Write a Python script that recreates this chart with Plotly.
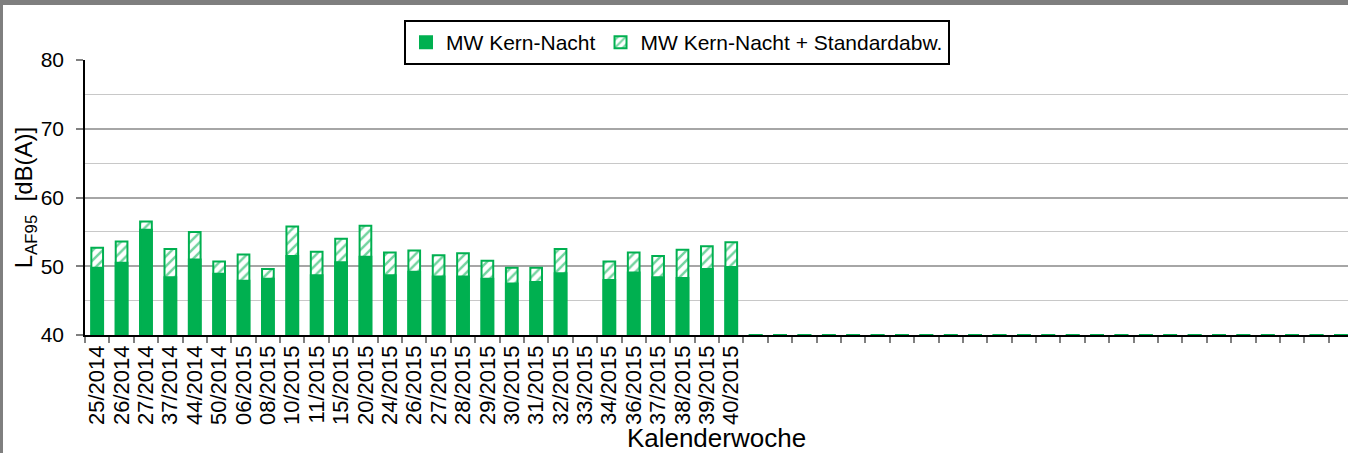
import plotly.graph_objects as go

# ---------------- data ----------------
weeks = ["25/2014", "26/2014", "27/2014", "37/2014", "44/2014", "50/2014",
         "06/2015", "08/2015", "10/2015", "11/2015", "15/2015", "20/2015",
         "24/2015", "26/2015", "27/2015", "28/2015", "29/2015", "30/2015",
         "31/2015", "32/2015", "33/2015", "34/2015", "36/2015", "37/2015",
         "38/2015", "39/2015", "40/2015"]
n_empty = 25  # remaining (unlabelled) weeks with value 0

mw_kern_nacht = [49.8, 50.5, 55.3, 48.4, 51.0, 48.9, 47.9, 48.2, 51.5, 48.7,
                 50.6, 51.4, 48.7, 49.2, 48.5, 48.5, 48.2, 47.5, 47.7, 49.0,
                 None, 48.0, 49.1, 48.4, 48.3, 49.6, 49.9] + [0] * n_empty
mw_plus_sd = [52.7, 53.6, 56.5, 52.5, 55.0, 50.7, 51.7, 49.6, 55.8, 52.1,
              54.0, 55.9, 52.0, 52.3, 51.6, 51.9, 50.8, 49.8, 49.8, 52.5,
              None, 50.7, 52.0, 51.5, 52.4, 52.9, 53.5] + [0] * n_empty

tick_labels = weeks + [""] * n_empty
y_min, y_max = 40, 80

# ---------------- styling ----------------
GREEN = "#00b050"
FONT = "Liberation Sans, Arial, sans-serif"
W, H = 1348, 453
ML, MR, MT, MB = 85, 0, 60, 118
plot_w = W - ML - MR
plot_h = H - MT - MB

def px_x(px):
    return (px - ML) / plot_w

def px_y(py):
    return (H - MB - py) / plot_h

cats = list(range(len(tick_labels)))

def heights(vals):
    return [None if v is None else v - y_min for v in vals]

fig = go.Figure()
fig.add_trace(go.Bar(
    x=cats, y=heights(mw_plus_sd), base=y_min,
    name="MW Kern-Nacht + Standardabw.",
    legendrank=2,
    width=0.48,
    marker=dict(color="white",
                line=dict(color=GREEN, width=2),
                pattern=dict(shape="/", fgcolor=GREEN, bgcolor="white",
                             fgopacity=0.55, size=7, solidity=0.35)),
))
fig.add_trace(go.Bar(
    x=cats, y=heights(mw_kern_nacht), base=y_min,
    name="MW Kern-Nacht",
    legendrank=1,
    width=0.48,
    marker=dict(color=GREEN, line=dict(color=GREEN, width=2)),
))

fig.update_layout(
    width=W, height=H,
    margin=dict(l=ML, r=MR, t=MT, b=MB, autoexpand=False),
    barmode="overlay",
    plot_bgcolor="white", paper_bgcolor="white",
    font=dict(family=FONT, color="black", size=20),
    showlegend=True,
    legend=dict(orientation="h", x=px_x(677), xanchor="center",
                y=px_y(20), yanchor="top",
                bordercolor="black", borderwidth=2, bgcolor="white",
                font=dict(size=21, family=FONT), traceorder="normal",
                itemclick=False),
    xaxis=dict(type="category", range=[-0.5, 51.29],
               tickmode="array", tickvals=cats, ticktext=tick_labels,
               tickangle=-90, tickfont=dict(size=22),
               showline=True, linecolor="black", linewidth=1.5,
               ticks="outside", tickson="boundaries", ticklen=6,
               tickcolor="#808080", tickwidth=1.5,
               showgrid=False, automargin=False,
               title=dict(text="Kalenderwoche", font=dict(size=26), standoff=6)),
    yaxis=dict(range=[y_min, y_max], dtick=10, tick0=0,
               tickfont=dict(size=21),
               showline=True, linecolor="black", linewidth=1.5,
               ticks="outside", ticklen=7, tickcolor="#808080", tickwidth=1.5,
               ticklabelstandoff=8,
               showgrid=True, gridcolor="#a6a6a6", gridwidth=1.5,
               minor=dict(dtick=5, showgrid=True, gridcolor="#c8c8c8",
                          gridwidth=1.2, ticks=""),
               zeroline=False, automargin=False,
               title=dict(text="L<sub>AF95</sub>  [dB(A)]", font=dict(size=24),
                          standoff=1)),
    shapes=[
        dict(type="rect", xref="paper", yref="paper",
             x0=px_x(0), x1=px_x(W + 20), y0=px_y(5), y1=px_y(-5),
             fillcolor="#7f7f7f", line=dict(width=0), layer="above"),
        dict(type="rect", xref="paper", yref="paper",
             x0=px_x(-5), x1=px_x(3), y0=px_y(H + 5), y1=px_y(0),
             fillcolor="#7f7f7f", line=dict(width=0), layer="above"),
    ],
)

fig.write_html(
    "out.html",
    config={"displayModeBar": False},
    post_script="document.body.style.margin='0';"
                "document.documentElement.style.overflow='hidden';"
                "document.body.style.overflow='hidden';",
)
